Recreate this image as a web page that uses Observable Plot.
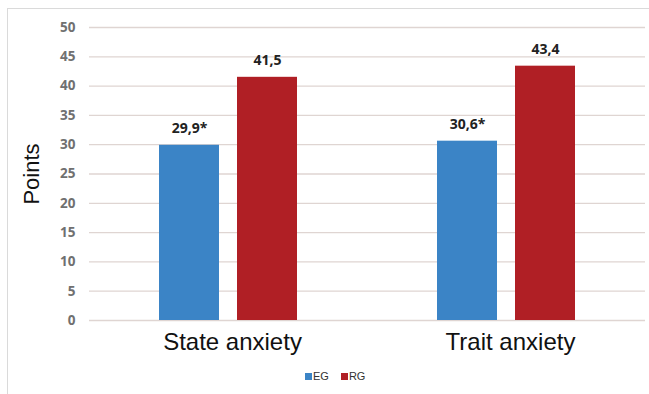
<!DOCTYPE html>
<html><head><meta charset="utf-8">
<script src="https://cdn.jsdelivr.net/npm/d3@7"></script>
<script src="https://cdn.jsdelivr.net/npm/@observablehq/plot@0.6"></script>
<style>
body{margin:0;background:#fff;}
#wrap{position:relative;width:649px;height:394px;overflow:hidden;background:#fff;}
#border{position:absolute;left:7px;top:8px;right:0;bottom:0;border-top:1px solid #dadada;border-left:1px solid #dadada;}
#chart{position:absolute;left:0;top:0;}
#legend{position:absolute;top:370px;left:305px;display:flex;align-items:center;font-family:"Liberation Sans",Arial,sans-serif;font-size:11px;color:#333;}
#legend .sw{width:7px;height:7px;display:inline-block;margin-right:1px;}
#legend .it{display:flex;align-items:center;margin-right:12px;}
</style>
</head><body>
<div id="wrap"><div id="border"></div><div id="chart"></div><div id="legend"></div></div>
<script>
const categories = ["State anxiety", "Trait anxiety"];
const groups = ["EG", "RG"];
const egValues = [29.9, 30.6];
const rgValues = [41.5, 43.4];
const egMarks = ["*", "*"];
const rgMarks = ["", ""];
const yTicks = [0, 5, 10, 15, 20, 25, 30, 35, 40, 45, 50];
const groupColors = ["#3b84c6", "#b01f25"];

const rows = [];
categories.forEach((c, i) => {
  rows.push({category: c, group: "EG", value: egValues[i], mark: egMarks[i]});
  rows.push({category: c, group: "RG", value: rgValues[i], mark: rgMarks[i]});
});
const fmt = v => v.toFixed(1).replace(".", ",");

const chart = Plot.plot({
  width: 649, height: 365,
  marginLeft: 88, marginRight: 4, marginTop: 27, marginBottom: 45,
  style: {background: "transparent", fontFamily: "'Open Sans', sans-serif"},
  fx: {domain: categories, padding: 0, label: null},
  x: {domain: groups, paddingInner: 0.228, paddingOuter: 0.88, axis: null},
  y: {domain: [0, 50]},
  color: {domain: groups, range: groupColors},
  marks: [
    Plot.gridY(yTicks, {stroke: "#dfd5d2", strokeOpacity: 1, strokeWidth: 1.3}),
    Plot.axisY(yTicks, {tickSize: 0, tickPadding: 14, fontSize: 13.5, fontWeight: "bold", fill: "#707070", label: null, fontFamily: "'Open Sans', sans-serif"}),
    Plot.axisY({ticks: [], label: "Points", labelArrow: "none", labelAnchor: "center", labelOffset: 66, fontSize: 22, fill: "#111", fontFamily: "'Liberation Sans', Arial, sans-serif"}),
    Plot.barY(rows, {fx: "category", x: "group", y: "value", fill: "group"}),
    Plot.text(rows, {fx: "category", x: "group", y: "value", text: d => fmt(d.value) + d.mark, dy: -17, fontSize: 14, fontWeight: "bold", fill: "#222", fontFamily: "'Open Sans', sans-serif"}),
    Plot.axisFx({anchor: "bottom", tickSize: 0, tickPadding: 12, fontSize: 24, fill: "#111", label: null, dx: 4, fontFamily: "'Liberation Sans', Arial, sans-serif"})
  ]
});
document.getElementById("chart").appendChild(chart);

const legend = document.getElementById("legend");
groups.forEach((g, i) => {
  const it = document.createElement("span");
  it.className = "it";
  const sw = document.createElement("span");
  sw.className = "sw";
  sw.style.background = groupColors[i];
  it.appendChild(sw);
  it.appendChild(document.createTextNode(g));
  legend.appendChild(it);
});
</script>
</body></html>
